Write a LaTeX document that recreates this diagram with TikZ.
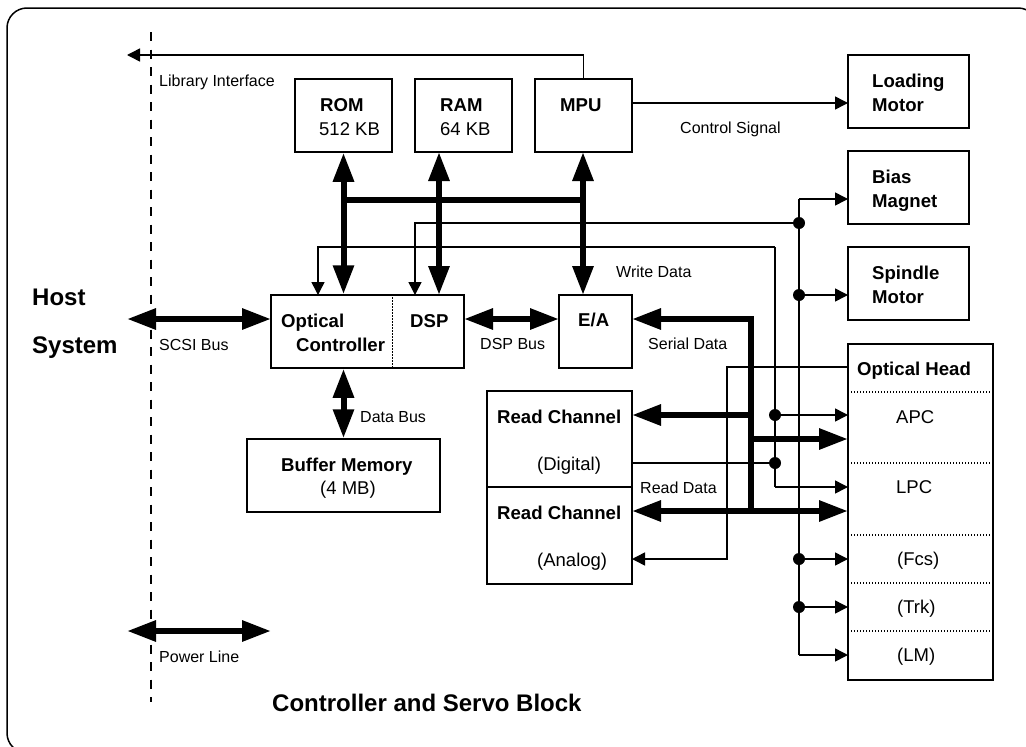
\documentclass[tikz,border=0pt]{standalone}
\usepackage{fontspec}
\setmainfont{Liberation Sans}
\usetikzlibrary{arrows.meta}
\tikzset{
  block/.style={draw, line width=1.5pt, inner sep=0pt},
  sig/.style={line width=1.5pt},
  sigarrow/.style={line width=1.5pt, -{Triangle[length=13pt,width=13pt]}},
  bus/.style={line width=6pt},
  busarrow/.style={line width=6pt, -{Triangle[length=29pt,width=20pt]}},
  busboth/.style={line width=6pt, {Triangle[length=29pt,width=20pt]}-{Triangle[length=29pt,width=20pt]}},
  cutline/.style={line width=1.2pt, dash pattern=on 1.4pt off 1.6pt},
  junction/.style={circle, fill, inner sep=0pt, minimum size=12pt},
  lbl/.style={anchor=west, inner sep=0pt, text height=11pt, text depth=0pt, font=\fontsize{16}{18}\selectfont},
  blocktext/.style={anchor=west, inner sep=0pt, text height=13pt, text depth=0pt, font=\fontsize{18.5}{22}\selectfont},
  blockname/.style={blocktext, font=\fontsize{18.6}{22}\selectfont\bfseries},
  titletext/.style={anchor=west, inner sep=0pt, text height=17pt, text depth=0pt, font=\fontsize{24}{28}\selectfont\bfseries},
}
\begin{document}
\begin{tikzpicture}[x=1pt,y=-1pt]
    \useasboundingbox (0,0) rectangle (1026,747);

    % Outer frame and interface line
    \draw[line width=1.5pt, rounded corners=20pt] (7,8) rectangle (1038,753);
    \coordinate (cuttop) at (151,32);
    \coordinate (cutbot) at (151,702);
    \draw[line width=1.5pt, dash pattern=on 9pt off 8.5pt] (cuttop) -- (cutbot);

    % Blocks
    \node[block, minimum width=97pt, minimum height=73pt] (rom) at (343.5,115.5) {};
    \node[block, minimum width=97pt, minimum height=73pt] (ram) at (463.5,115.5) {};
    \node[block, minimum width=97pt, minimum height=73pt] (mpu) at (583.5,115.5) {};
    \node[block, minimum width=121pt, minimum height=73pt] (loading) at (908.5,91.5) {};
    \node[block, minimum width=121pt, minimum height=73pt] (bias) at (908.5,187.5) {};
    \node[block, minimum width=121pt, minimum height=73pt] (spindle) at (908.5,283.5) {};
    \node[block, minimum width=193pt, minimum height=73pt] (ctrl) at (367.5,331.5) {};
    \node[block, minimum width=73pt, minimum height=73pt] (ea) at (595.5,331.5) {};
    \node[block, minimum width=193pt, minimum height=73pt] (buffer) at (343.5,475.5) {};
    \node[block, minimum width=145pt, minimum height=96pt] (digital) at (559.5,439) {};
    \node[block, minimum width=145pt, minimum height=97pt] (analog) at (559.5,535.5) {};
    \node[block, minimum width=145pt, minimum height=336pt] (head) at (920.5,512) {};

    % Dotted cuts inside the blocks
    \draw[cutline] (ctrl.north -| rom.east) -- (ctrl.south -| rom.east);
    \draw[cutline] (851,392) -- (991,392);
    \draw[cutline] (851,463) -- (991,463);
    \draw[cutline] (851,535) -- (991,535);
    \draw[cutline] (851,583) -- (991,583);
    \draw[cutline] (851,631) -- (991,631);

    % Ports on the blocks
    \coordinate (mpuout) at (632,103);
    \coordinate (loadin) at (848,103);
    \coordinate (libend) at (127,55);
    \coordinate (ramport) at (439,152);
    \coordinate (dspport) at (439,295);
    \coordinate (mpuport) at (583,152);
    \coordinate (eaport) at (583,295);
    \coordinate (busleft) at (343,200);
    \coordinate (busright) at (583,200);
    \coordinate (cornerw) at (318,247);
    \coordinate (ctrlin) at (318,295);
    \coordinate (dspin) at (415,295);
    \coordinate (scsiend) at (127,319);
    \coordinate (scsiin) at (271,319);
    \coordinate (dspout) at (464,319);
    \coordinate (eain) at (559,319);
    \coordinate (eaout) at (632,319);
    \coordinate (sertop) at (751,319);
    \coordinate (serbot) at (751,511);
    \coordinate (rdin) at (632,415);
    \coordinate (apcbus) at (751,439);
    \coordinate (apcbusin) at (848,439);
    \coordinate (raleft) at (632,511);
    \coordinate (raright) at (848,511);
    \coordinate (powend) at (127,631);
    \coordinate (powin) at (271,631);
    \coordinate (railtop) at (799,199);
    \coordinate (railbot) at (799,655);
    \coordinate (biasin) at (848,199);
    \coordinate (spindlein) at (848,295);
    \coordinate (lowtop) at (775,247);
    \coordinate (lowbot) at (775,487);
    \coordinate (apcin) at (848,415);
    \coordinate (lpcin) at (848,487);
    \coordinate (rdout) at (631,463);
    \coordinate (headout) at (848,367);
    \coordinate (headleft) at (727,367);
    \coordinate (anain) at (632,559);
    \coordinate (fcsin) at (848,559);
    \coordinate (trkin) at (848,607);
    \coordinate (lmin) at (848,655);

    % Junction dots
    \node[junction] (jdsp) at (799,223) {};
    \node[junction] (jspindle) at (799,295) {};
    \node[junction] (jfcs) at (799,559) {};
    \node[junction] (jtrk) at (799,607) {};
    \node[junction] (japc) at (775,415) {};
    \node[junction] (jrd) at (775,463) {};

    % Thick buses
    \draw[busboth] (rom.south) -- (rom.south |- ctrl.north);
    \draw[busboth] (ramport) -- (dspport);
    \draw[busboth] (mpuport) -- (eaport);
    \draw[bus] (busleft) -- (busright);
    \draw[busboth] (scsiend) -- (scsiin);
    \draw[busboth] (dspout) -- (eain);
    \draw[busboth] (ctrl.south -| rom.south) -- (buffer.north -| rom.south);
    \draw[busboth] (powend) -- (powin);
    \draw[line width=6pt, {Triangle[length=29pt,width=20pt]}-, line join=miter] (eaout) -- (sertop) -- (serbot);
    \draw[busarrow] (sertop |- rdin) -- (rdin);
    \draw[busarrow] (apcbus) -- (apcbusin);
    \draw[busboth] (raleft) -- (raright);

    % Thin signals
    \draw[sigarrow] (mpu.north) |- (libend);
    \draw[sigarrow] (mpuout) -- (loadin);
    \draw[sigarrow] (jdsp.center) -| (dspin);
    \draw[sig] (railtop) -- (railbot);
    \draw[sigarrow] (railtop) -- (biasin);
    \draw[sigarrow] (jspindle.center) -- (spindlein);
    \draw[sigarrow] (jfcs.center) -- (fcsin);
    \draw[sigarrow] (jtrk.center) -- (trkin);
    \draw[sigarrow] (railbot) -- (lmin);
    \draw[sigarrow] (lowtop) -- (cornerw) -- (ctrlin);
    \draw[sig] (lowtop) -- (lowbot);
    \draw[sigarrow] (lowbot) -- (lpcin);
    \draw[sigarrow] (japc.center) -- (apcin);
    \draw[sig] (rdout) -- (jrd.center);
    \draw[sigarrow] (headout) -- (headleft) -- (headleft |- anain) -- (anain);

    % Names of the blocks
    \node[blockname] (romname) at (320,105) {ROM};
    \node[blocktext] (romsize) at (319,129) {512 KB};
    \node[blockname] (ramname) at (440,105) {RAM};
    \node[blocktext] (ramsize) at (440,129) {64 KB};
    \node[blockname] (mpuname) at (560,105) {MPU};
    \node[blockname] (loadname) at (872,81) {Loading};
    \node[blockname] (loadmotor) at (872,105) {Motor};
    \node[blockname] (biasname) at (872,177) {Bias};
    \node[blockname] (biasmagnet) at (872,201) {Magnet};
    \node[blockname] (spindlename) at (872,273) {Spindle};
    \node[blockname] (spindlemotor) at (872,297) {Motor};
    \node[blockname] (ctrlname) at (281,321) {Optical};
    \node[blockname] (ctrlname2) at (296,345) {Controller};
    \node[blockname] (dspname) at (410,321) {DSP};
    \node[blockname] (eaname) at (578,320) {E/A};
    \node[blockname] (buffername) at (281,465) {Buffer Memory};
    \node[blocktext] (buffersize) at (320,488) {(4 MB)};
    \node[blockname] (rdname) at (497,417) {Read Channel};
    \node[blocktext] (rdkind) at (537,464) {(Digital)};
    \node[blockname] (raname) at (497,513) {Read Channel};
    \node[blocktext] (rakind) at (537,560) {(Analog)};
    \node[blockname] (headname) at (857,369) {Optical Head};
    \node[blocktext] (apcname) at (896,417) {APC};
    \node[blocktext] (lpcname) at (896,487) {LPC};
    \node[blocktext] (fcsname) at (897,559) {(Fcs)};
    \node[blocktext] (trkname) at (897,607) {(Trk)};
    \node[blocktext] (lmname) at (897,655) {(LM)};

    % Labels on the connectors
    \node[lbl] (liblabel) at (159,81) {Library Interface};
    \node[lbl] (ctllabel) at (680,128) {Control Signal};
    \node[lbl] (wrlabel) at (616,272) {Write Data};
    \node[lbl] (scsilabel) at (159,345) {SCSI Bus};
    \node[lbl] (dsplabel) at (480,344) {DSP Bus};
    \node[lbl] (serlabel) at (648,344) {Serial Data};
    \node[lbl] (datalabel) at (360,417) {Data Bus};
    \node[lbl] (rdlabel) at (640,488) {Read Data};
    \node[lbl] (powlabel) at (159,657) {Power Line};

    % Titles
    \node[titletext] (host) at (32,297) {Host};
    \node[titletext] (system) at (32,345) {System};
    \node[titletext] (title) at (272,703) {Controller and Servo Block};
  \end{tikzpicture}
\end{document}
